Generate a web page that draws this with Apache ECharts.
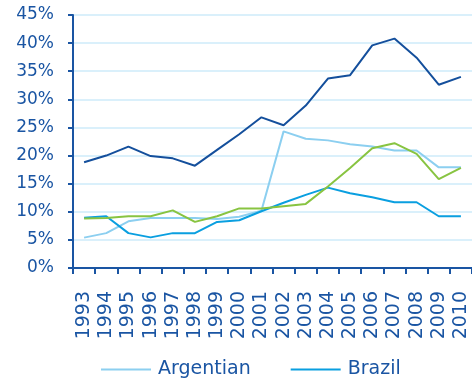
<!DOCTYPE html>
<html>
<head>
<meta charset="utf-8">
<script src="https://cdn.jsdelivr.net/npm/echarts@6/dist/echarts.min.js"></script>
<style>
  html, body { margin: 0; padding: 0; background: #ffffff; }
  #chart { width: 472px; height: 378px; }
</style>
</head>
<body>
<div id="chart"></div>
<script>
// Years on the category axis
const years = ['1993','1994','1995','1996','1997','1998','1999','2000','2001',
               '2002','2003','2004','2005','2006','2007','2008','2009','2010'];

// Shares in percent
const seriesTop = [18.8, 20.0, 21.6, 19.9, 19.5, 18.2, 21.0, 23.8, 26.8,
                   25.4, 28.9, 33.7, 34.3, 39.6, 40.8, 37.4, 32.6, 34.0];
const argentian = [5.4, 6.2, 8.3, 8.9, 8.9, 8.9, 8.7, 9.1, 10.2,
                   24.3, 23.0, 22.7, 22.0, 21.6, 20.9, 20.9, 17.9, 17.9];
const brazil    = [8.95, 9.2, 6.2, 5.45, 6.2, 6.2, 8.2, 8.5, 10.1,
                   11.6, 13.0, 14.3, 13.3, 12.6, 11.7, 11.7, 9.2, 9.2];
const seriesGreen = [8.8, 8.9, 9.2, 9.2, 10.25, 8.2, 9.2, 10.6, 10.6,
                     11.0, 11.4, 14.5, 17.8, 21.3, 22.2, 20.3, 15.8, 17.8];

const axisBlue = '#1a55a3';
const fontFamily = 'DejaVu Sans';

const chart = echarts.init(document.getElementById('chart'), null, { renderer: 'canvas' });

function lineSeries(name, data, color) {
  return {
    name: name,
    type: 'line',
    data: data,
    symbol: 'none',
    lineStyle: { color: color, width: 2 },
    itemStyle: { color: color },
    animation: false
  };
}

chart.setOption({
  animation: false,
  textStyle: { fontFamily: fontFamily },
  grid: { left: 73, right: 0, top: 15, bottom: 110, containLabel: false },
  legend: {
    data: ['Argentian', 'Brazil'],
    left: 96,
    top: 355,
    icon: 'rect',
    itemWidth: 50,
    itemHeight: 2,
    itemGap: 40,
    textStyle: { color: axisBlue, fontSize: 19, fontFamily: fontFamily, padding: [0, 0, 0, 2] }
  },
  xAxis: {
    type: 'category',
    data: years,
    boundaryGap: true,
    axisLine: { lineStyle: { color: axisBlue, width: 2 } },
    axisTick: { show: true, length: 6, lineStyle: { color: axisBlue, width: 2 } },
    axisLabel: { rotate: 90, margin: 23, color: axisBlue, fontSize: 19, fontFamily: fontFamily, interval: 0 },
    splitLine: { show: false }
  },
  yAxis: {
    type: 'value',
    min: 0,
    max: 45,
    interval: 5,
    axisLine: { show: true, lineStyle: { color: axisBlue, width: 2 } },
    axisTick: { show: true, length: 5, lineStyle: { color: axisBlue, width: 2 } },
    axisLabel: { formatter: '{value}%', margin: 19, color: axisBlue, fontSize: 17, fontFamily: fontFamily },
    splitLine: { show: true, lineStyle: { color: '#daf0fb', width: 2 } }
  },
  series: [
    lineSeries('Argentian', argentian, '#8ccff0'),
    lineSeries('Brazil', brazil, '#0a9fe0'),
    lineSeries('Series 3', seriesGreen, '#88c441'),
    lineSeries('Series 4', seriesTop, '#144f9c')
  ]
});
</script>
</body>
</html>
